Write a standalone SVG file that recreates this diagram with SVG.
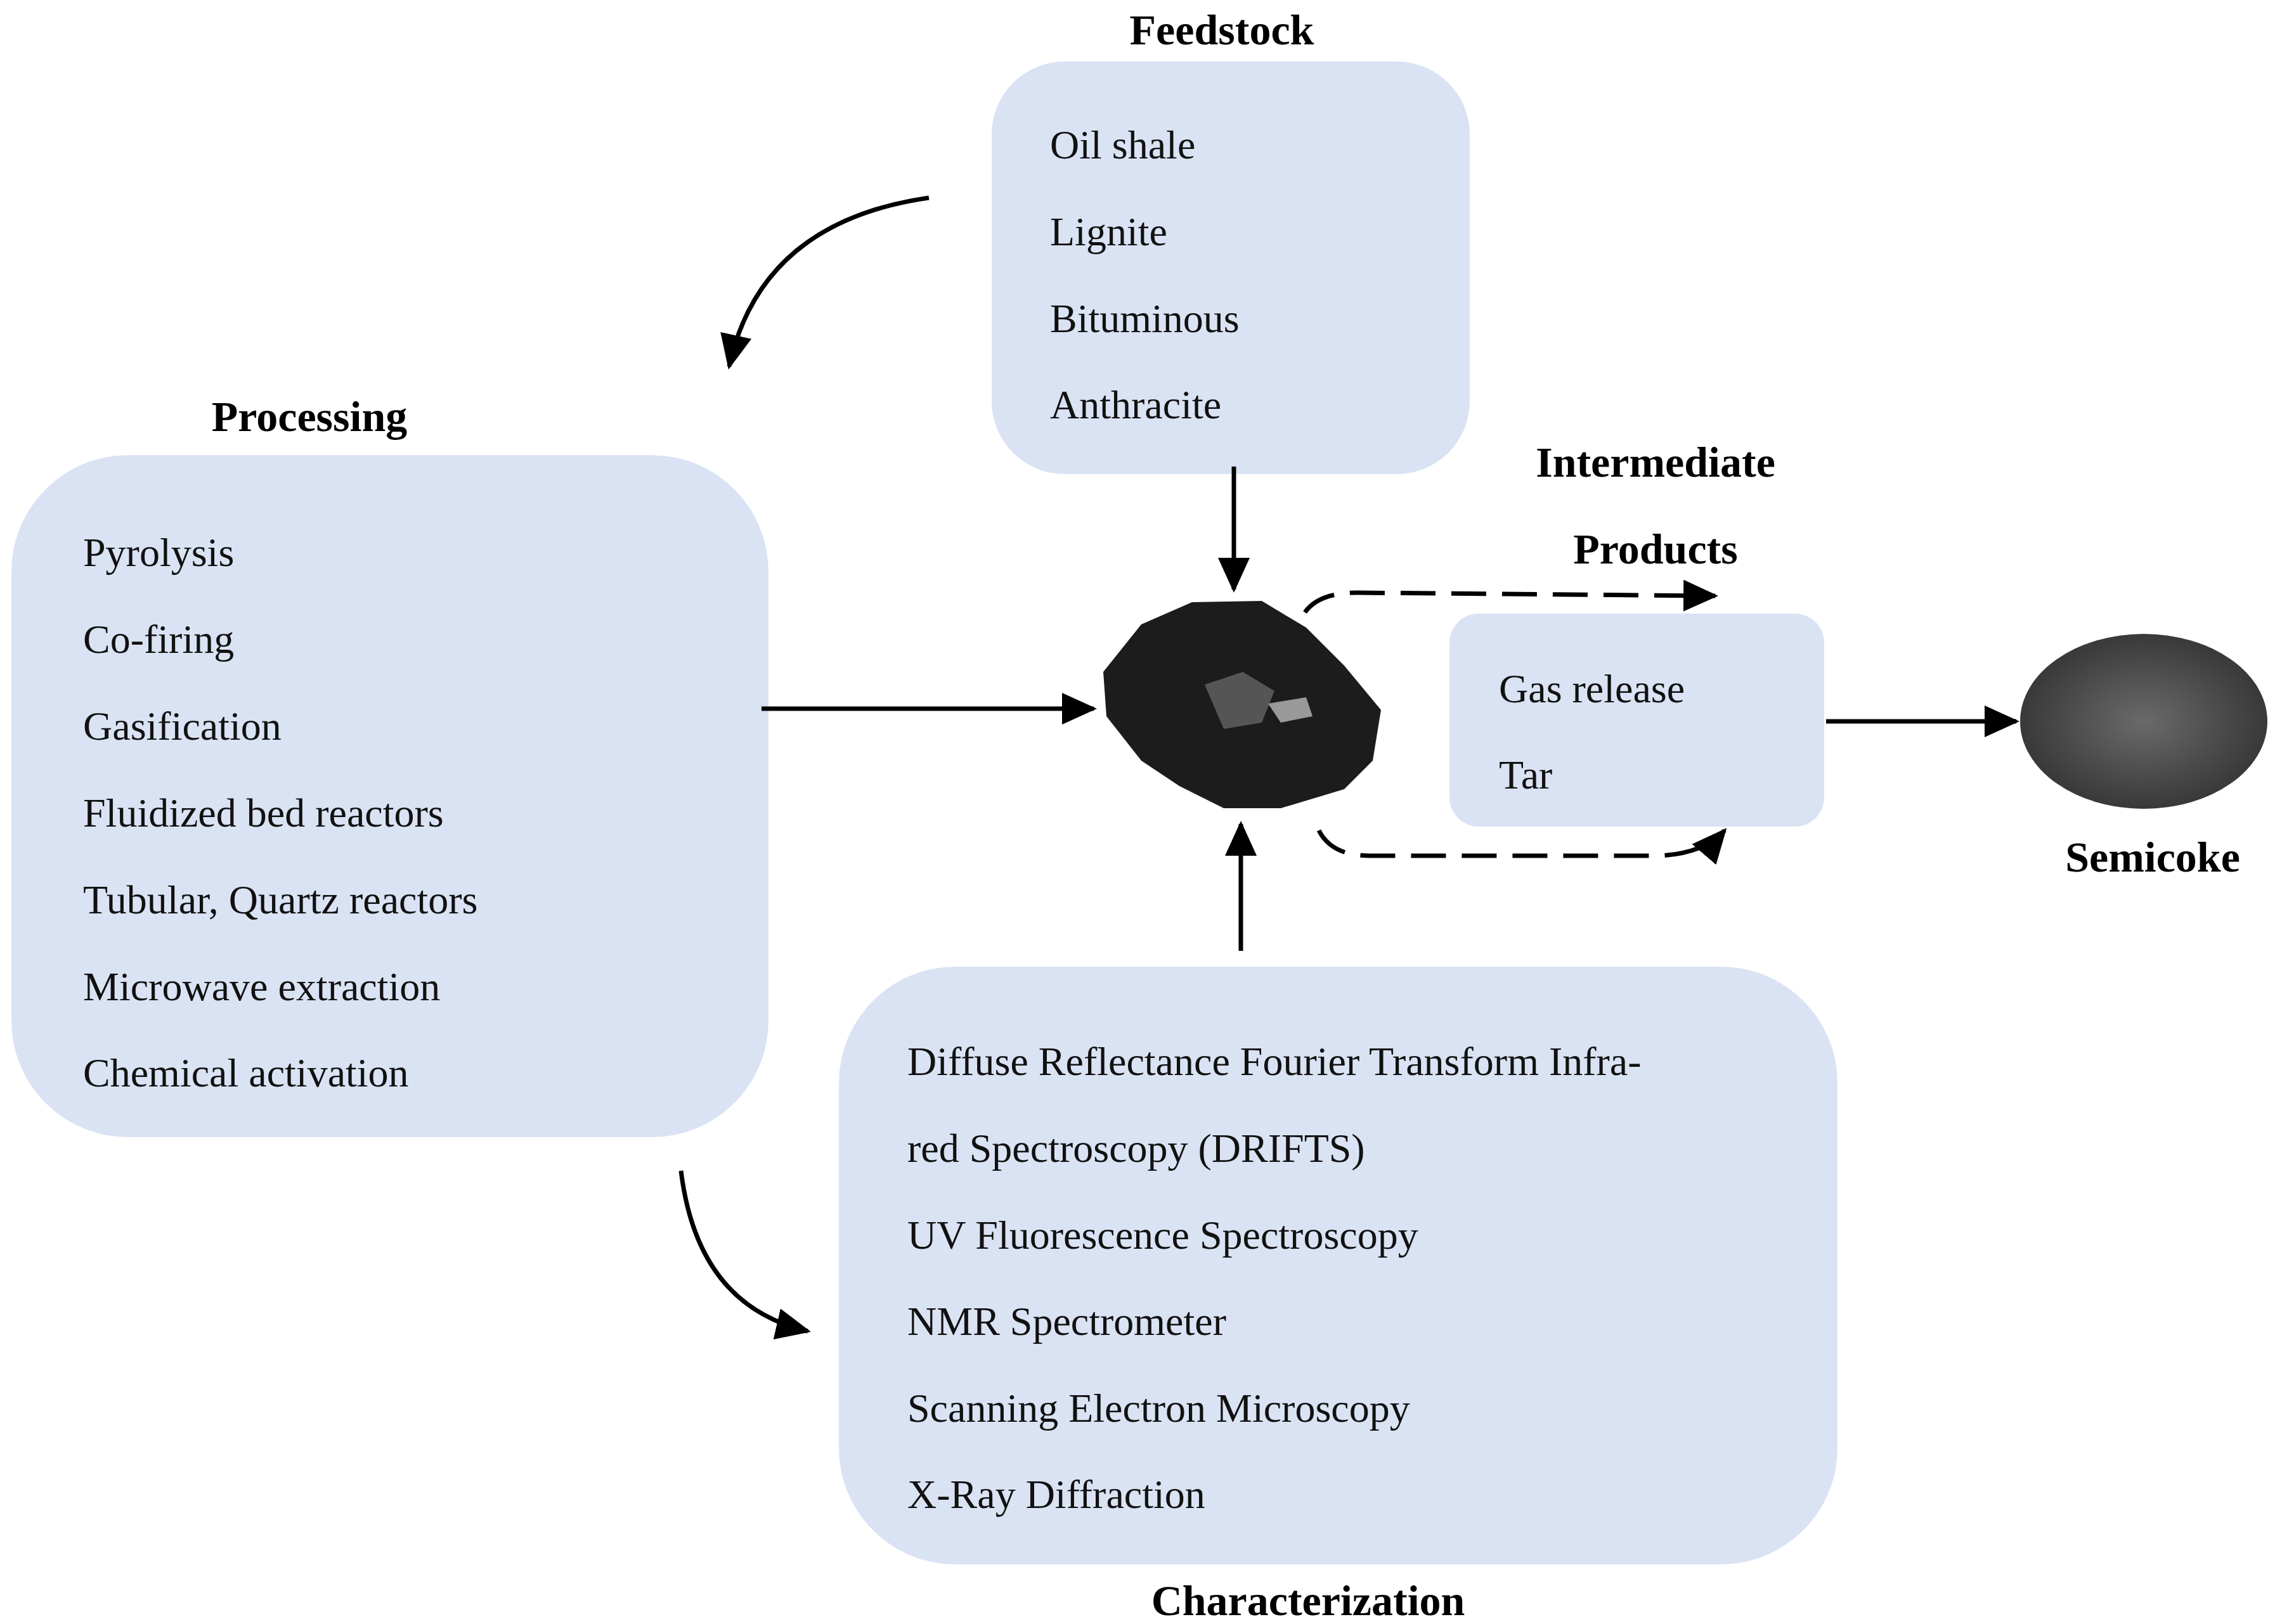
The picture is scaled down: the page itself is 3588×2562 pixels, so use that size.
<svg xmlns="http://www.w3.org/2000/svg" width="3588" height="2562" viewBox="0 0 3588 2562">
<style>
.box{fill:#dae3f3;stroke:none}
.t{font-family:"Liberation Serif",serif;font-size:64px;fill:#111}
.h{font-family:"Liberation Serif",serif;font-size:68px;font-weight:bold;fill:#000}
.c{fill:none;stroke:#000;stroke-width:7}
.d{fill:none;stroke:#000;stroke-width:7;stroke-dasharray:55 25}
</style>
<defs>
<marker id="a" markerUnits="userSpaceOnUse" markerWidth="60" markerHeight="50" refX="50" refY="25" orient="auto"><path d="M0,0 L55,25 L0,50 Z" fill="#000"/></marker>
<radialGradient id="sg" cx="0.5" cy="0.5" r="0.6"><stop offset="0" stop-color="#6a6a6a"/><stop offset="1" stop-color="#2f2f2f"/></radialGradient>
</defs>
<rect width="3588" height="2562" fill="#fff"/>
<g id="feedstock">
<text class="h" x="1927" y="70" text-anchor="middle">Feedstock</text>
<rect class="box" x="1564" y="97" width="754" height="651" rx="115"/>
<text class="t" x="1656" y="250">Oil shale</text>
<text class="t" x="1656" y="387">Lignite</text>
<text class="t" x="1656" y="524">Bituminous</text>
<text class="t" x="1656" y="660">Anthracite</text>
</g>
<g id="processing">
<text class="h" x="488" y="680" text-anchor="middle">Processing</text>
<rect class="box" x="18" y="718" width="1194" height="1076" rx="184"/>
<text class="t" x="131" y="893">Pyrolysis</text>
<text class="t" x="131" y="1030">Co-firing</text>
<text class="t" x="131" y="1167">Gasification</text>
<text class="t" x="131" y="1304">Fluidized bed reactors</text>
<text class="t" x="131" y="1441">Tubular, Quartz reactors</text>
<text class="t" x="131" y="1578">Microwave extraction</text>
<text class="t" x="131" y="1714">Chemical activation</text>
</g>
<g id="characterization">
<rect class="box" x="1323" y="1525" width="1575" height="943" rx="184"/>
<text class="t" x="1431" y="1696">Diffuse Reflectance Fourier Transform Infra-</text>
<text class="t" x="1431" y="1833">red Spectroscopy (DRIFTS)</text>
<text class="t" x="1431" y="1970">UV Fluorescence Spectroscopy</text>
<text class="t" x="1431" y="2106">NMR Spectrometer</text>
<text class="t" x="1431" y="2243">Scanning Electron Microscopy</text>
<text class="t" x="1431" y="2379">X-Ray Diffraction</text>
<text class="h" x="2063" y="2548" text-anchor="middle">Characterization</text>
</g>
<g id="intermediate">
<text class="h" x="2611" y="752" text-anchor="middle">Intermediate</text>
<text class="h" x="2611" y="889" text-anchor="middle">Products</text>
<rect class="box" x="2286" y="968" width="591" height="336" rx="46"/>
<text class="t" x="2364" y="1108">Gas release</text>
<text class="t" x="2364" y="1244">Tar</text>
</g>
<g id="coal">
<path d="M1800,985 L1880,950 L1990,948 L2060,990 L2120,1050 L2178,1120 L2165,1200 L2120,1245 L2020,1275 L1930,1275 L1860,1240 L1800,1200 L1745,1130 L1740,1060 Z" fill="#1c1c1c"/>
<path d="M1900,1080 L1960,1060 L2010,1090 L1990,1140 L1930,1150 Z" fill="#555"/>
<path d="M2000,1110 L2060,1100 L2070,1130 L2020,1140 Z" fill="#999"/>
</g>
<g id="semicoke">
<ellipse cx="3381" cy="1138" rx="195" ry="138" fill="url(#sg)"/>
<text class="h" x="3395" y="1375" text-anchor="middle">Semicoke</text>
</g>
<g id="connectors">
<path class="c" d="M1946,736 L1946,930" marker-end="url(#a)"/>
<path class="c" d="M1201,1118 L1725,1118" marker-end="url(#a)"/>
<path class="c" d="M1957,1500 L1957,1300" marker-end="url(#a)"/>
<path class="c" d="M2880,1138 L3180,1138" marker-end="url(#a)"/>
<path class="c" d="M1465,312 Q1200,350 1150,578" marker-end="url(#a)"/>
<path class="c" d="M1074,1847 Q1100,2060 1274,2100" marker-end="url(#a)"/>
<path class="d" d="M2058,966 Q2080,935 2140,935 L2705,940" marker-end="url(#a)"/>
<path class="d" d="M2080,1310 Q2100,1350 2160,1350 L2620,1350 Q2690,1345 2720,1310" marker-end="url(#a)"/>
</g>
</svg>
